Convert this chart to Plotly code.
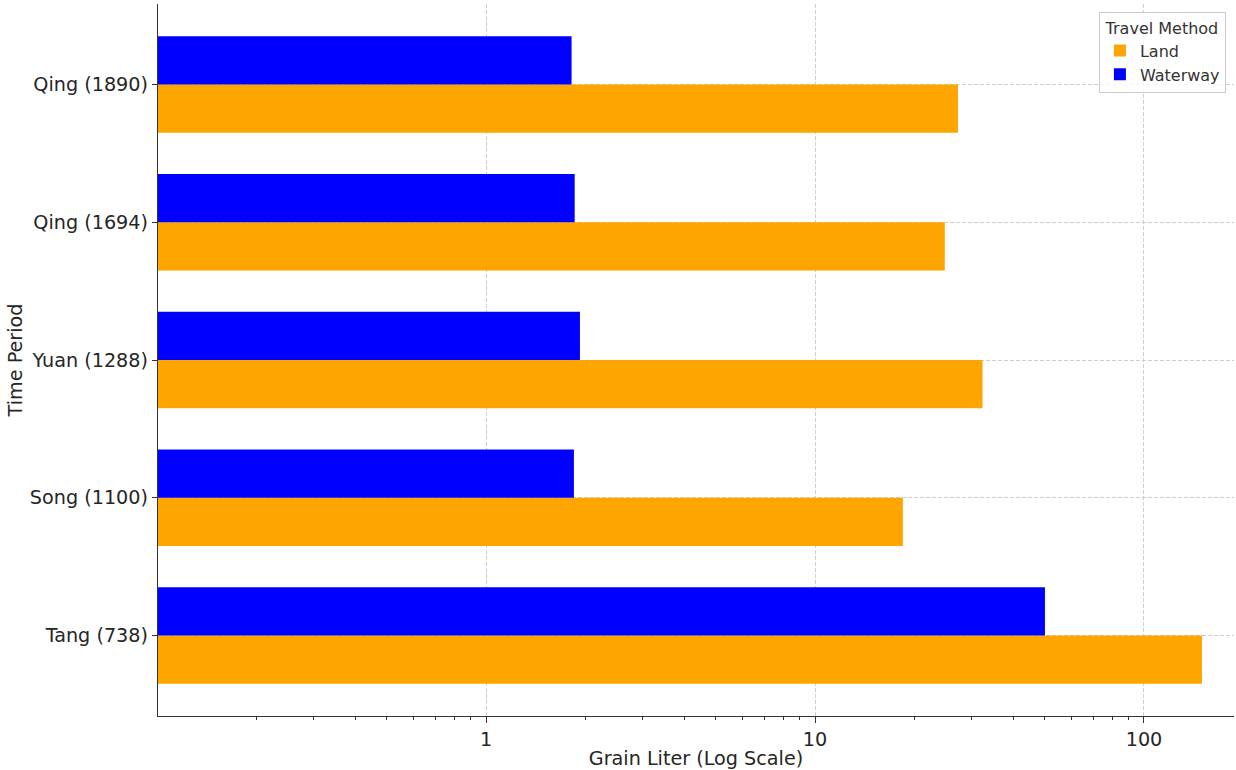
import plotly.graph_objects as go

periods = ["Tang (738)", "Song (1100)", "Yuan (1288)", "Qing (1694)", "Qing (1890)"]
land = [150, 18.5, 32.3, 24.8, 27.2]
waterway = [50, 1.85, 1.93, 1.86, 1.82]
x_tick_vals = [1, 10, 100]
x_tick_text = ["1", "10", "100"]

ypos = list(range(len(periods)))
bar_w = 0.35
font_color = "#262626"
FAM = "DejaVu Sans"
BIG = 19.2

fig = go.Figure()
fig.add_trace(go.Bar(
    y=ypos, x=land, orientation="h", name="Land",
    marker=dict(color="#FFA500", line=dict(width=0)),
    width=bar_w, offset=-bar_w,
))
fig.add_trace(go.Bar(
    y=ypos, x=waterway, orientation="h", name="Waterway",
    marker=dict(color="#0000FF", line=dict(width=0)),
    width=bar_w, offset=0,
))

minor_vals = [m * 10 ** e for e in (-1, 0, 1, 2) for m in range(2, 10)]

fig.update_layout(
    width=1236, height=770,
    margin=dict(l=158, r=2, t=4, b=54),
    paper_bgcolor="white", plot_bgcolor="white",
    barmode="overlay",
    font=dict(family=FAM, size=16, color=font_color),
    legend=dict(
        title=dict(text="Travel Method",
                   font=dict(family=FAM, size=16, color="#333333"),
                   side="top center"),
        font=dict(family=FAM, size=16, color="#333333"),
        traceorder="normal",
        x=0.9925, y=0.989, xanchor="right", yanchor="top",
        bordercolor="#cccccc", borderwidth=1, bgcolor="rgba(255,255,255,0.8)",
    ),
    xaxis=dict(
        type="log",
        automargin=False,
        range=[-0.997, 2.2736],
        tickvals=x_tick_vals, ticktext=x_tick_text,
        ticks="outside", ticklen=6, tickwidth=1.2, tickcolor="#333333",
        showline=True, linecolor="#333333", linewidth=1.3, mirror=False,
        showgrid=True, gridcolor="#cfcfcf", griddash="4px,2px", gridwidth=1,
        zeroline=False,
        minor=dict(tickvals=minor_vals, ticks="outside", ticklen=3,
                   tickcolor="#333333", showgrid=False),
        title=dict(text="Grain Liter (Log Scale)", standoff=5,
                   font=dict(family=FAM, size=BIG, color=font_color)),
        tickfont=dict(family=FAM, size=BIG, color=font_color),
    ),
    yaxis=dict(
        automargin=False,
        range=[-0.585, len(periods) - 1 + 0.585],
        tickvals=ypos, ticktext=periods,
        ticks="outside", ticklen=5, tickwidth=1.2, tickcolor="#333333",
        showline=True, linecolor="#333333", linewidth=1.3, mirror=False,
        showgrid=True, gridcolor="#cfcfcf", griddash="4px,2px", gridwidth=1,
        zeroline=False,
        title=dict(text="Time Period", standoff=2,
                   font=dict(family=FAM, size=BIG, color=font_color)),
        tickfont=dict(family=FAM, size=BIG, color=font_color),
    ),
)

fig.write_html("out.html")
